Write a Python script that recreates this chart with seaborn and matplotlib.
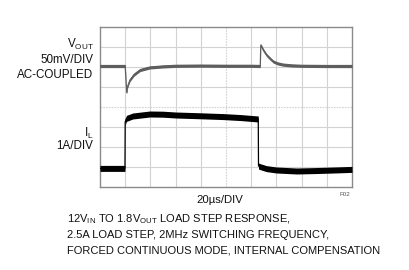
import numpy as np
import pandas as pd
import matplotlib
matplotlib.use("Agg")
import matplotlib.pyplot as plt
import seaborn as sns

# ---- data (in scope divisions) ----
vout_t = [0.0, 1.00, 1.02, 1.06, 1.10, 1.19, 1.35, 1.59, 1.98, 2.5, 3.0, 4.0, 5.0, 6.0, 6.36,
          6.38, 6.48, 6.61, 6.75, 6.88, 7.05, 7.26, 7.6, 8.0, 9.0, 10.0]
vout_v = [6.05, 6.05, 5.60, 4.72, 5.05, 5.35, 5.62, 5.85, 5.98, 6.03, 6.06, 6.07, 6.06, 6.06, 6.05,
          7.10, 6.85, 6.60, 6.42, 6.27, 6.18, 6.12, 6.08, 6.06, 6.05, 6.05]
il_t = [0.0, 0.99, 1.00, 1.05, 1.3, 1.98, 2.5, 3.0, 4.0, 4.9, 5.6, 6.28, 6.29, 6.35,
        6.6, 7.0, 7.8, 8.5, 9.3, 10.0]
il_v = [0.93, 0.93, 3.25, 3.43, 3.55, 3.65, 3.64, 3.60, 3.56, 3.52, 3.47, 3.40, 1.05, 1.02,
        0.92, 0.85, 0.80, 0.82, 0.85, 0.88]

trace_labels = ["VOUT", "IL"]
x_scale_label = "20µs/DIV"
left_labels = [r"V$\mathregular{_{OUT}}$", "50mV/DIV", "AC-COUPLED", r"I$\mathregular{_{L}}$", "1A/DIV"]
caption_lines = [
    r"12V$\mathregular{_{IN}}$ TO 1.8V$\mathregular{_{OUT}}$ LOAD STEP RESPONSE,",
    "2.5A LOAD STEP, 2MHz SWITCHING FREQUENCY,",
    "FORCED CONTINUOUS MODE, INTERNAL COMPENSATION",
]

sns.set_theme(style="white")
plt.rcParams["font.family"] = ["Liberation Sans", "DejaVu Sans"]
plt.rcParams["mathtext.fontset"] = "custom"
plt.rcParams["mathtext.rm"] = "Liberation Sans"

df_v = pd.DataFrame({"t": vout_t, "v": vout_v, "trace": trace_labels[0]})
df_i = pd.DataFrame({"t": il_t, "v": il_v, "trace": trace_labels[1]})

W, H = 409, 270
fig = plt.figure(figsize=(W / 100, H / 100), dpi=100)
ax = fig.add_axes([100 / W, 83 / H, 252 / W, 160 / H])

# graticule
for x in range(1, 10):
    ax.axvline(x, color="#d2d2d2", lw=0.8, ls=(0, (1.5, 1)) if x == 5 else "-", zorder=0)
for y in range(1, 8):
    ax.axhline(y, color="#d2d2d2", lw=0.8, ls=(0, (1.5, 1)) if y == 4 else "-", zorder=0)

# traces: thin centre line + noise band
sns.lineplot(data=df_v, x="t", y="v", ax=ax, color="#5e5e5e", lw=0.9, sort=False,
             legend=False, zorder=3)
ax.fill_between(df_v["t"], df_v["v"] - 0.08, df_v["v"] + 0.08, color="#5e5e5e",
                lw=0, zorder=3)
sns.lineplot(data=df_i, x="t", y="v", ax=ax, color="#000000", lw=0.9, sort=False,
             legend=False, zorder=4)
ax.fill_between(df_i["t"], df_i["v"] - 0.15, df_i["v"] + 0.15, color="#000000",
                lw=0, zorder=4)

ax.set_xlim(0, 10)
ax.set_ylim(0, 8)
ax.set_xticks([])
ax.set_yticks([])
ax.set_xlabel("")
ax.set_ylabel("")
for s in ax.spines.values():
    s.set_color("#8a8a8a")
    s.set_linewidth(1.0)

# left labels (right-aligned, baselines)
fs = 8.4
for lab, yb in zip(left_labels, [47.7, 63.3, 78.3, 136.7, 149.0]):
    fig.text(93.5 / W, 1 - yb / H, lab, ha="right", va="baseline", fontsize=fs, color="#111111")

fig.text(220 / W, 1 - 203 / H, x_scale_label, ha="center", va="baseline", fontsize=8.2,
         color="#111111")
fig.text(344.5 / W, 1 - 195 / H, "F02", ha="center", va="center", fontsize=4.5, color="#555555")

for i, line in enumerate(caption_lines):
    fig.text(67 / W, 1 - (222.7 + 15.2 * i) / H, line, ha="left", va="baseline", fontsize=8.0,
             color="#111111")

fig.savefig("out.png", dpi=100)
